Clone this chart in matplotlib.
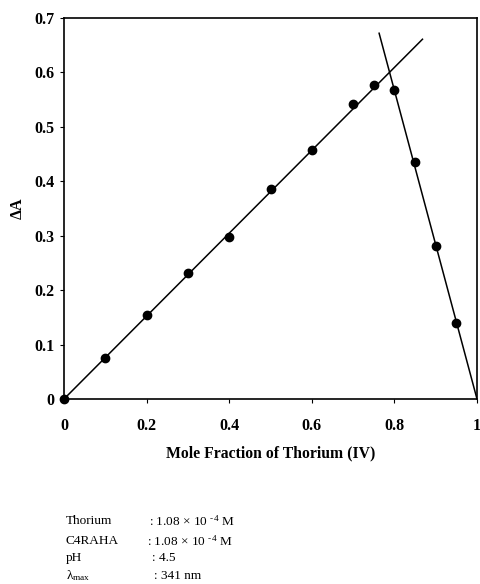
import numpy as np
import matplotlib.pyplot as plt

# Job's plot data
mole_frac = [0.0, 0.1, 0.2, 0.3, 0.4, 0.5, 0.6, 0.7, 0.75, 0.8, 0.85, 0.9, 0.95]
delta_a = [0.0, 0.076, 0.154, 0.231, 0.297, 0.386, 0.458, 0.542, 0.577, 0.568, 0.436, 0.281, 0.139]

# fitted lines (end points)
rise_x = [0.0, 0.868]
rise_y = [0.0, 0.661]
fall_x = [0.763, 1.0]
fall_y = [0.672, 0.0]

xticks = [0, 0.2, 0.4, 0.6, 0.8, 1]
xticklabels = ['0', '0.2', '0.4', '0.6', '0.8', '1']
yticks = [0, 0.1, 0.2, 0.3, 0.4, 0.5, 0.6, 0.7]
yticklabels = ['0', '0.1', '0.2', '0.3', '0.4', '0.5', '0.6', '0.7']

cond_names = ['Thorium', 'C4RAHA', 'pH', r'λ$_{\rm max}$']
cond_values = [r': 1.08 × 10 $^{\text{-4}}$ M', r': 1.08 × 10 $^{\text{-4}}$ M', ': 4.5', ': 341 nm']

plt.rcParams['font.family'] = ['Liberation Serif', 'DejaVu Serif']
plt.rcParams['mathtext.fontset'] = 'custom'
plt.rcParams['mathtext.rm'] = 'Liberation Serif'
plt.rcParams['mathtext.it'] = 'Liberation Serif:italic'

fig = plt.figure(figsize=(4.81, 5.84), dpi=100)
ax = fig.add_axes([64/481, 1-399/584, 413/481, 381/584])

ax.plot(rise_x, rise_y, color='black', linewidth=1.1)
ax.plot(fall_x, fall_y, color='black', linewidth=1.1)
ax.plot(mole_frac, delta_a, 'o', color='black', markersize=6, clip_on=False)

ax.set_xlim(0, 1)
ax.set_ylim(0, 0.7)
ax.set_xticks(xticks)
ax.set_xticklabels(xticklabels, fontsize=11.5, fontweight='bold')
ax.set_yticks(yticks)
ax.set_yticklabels(yticklabels, fontsize=11.5, fontweight='bold')
ax.tick_params(direction='out', length=3, width=0.8, pad=11)
ax.tick_params(axis='y', pad=4)
for s in ax.spines.values():
    s.set_linewidth(1.2)

ax.set_xlabel('Mole Fraction of Thorium (IV)', fontsize=11.3, fontweight='bold', labelpad=8)
ax.set_ylabel('ΔA', fontsize=11.5, fontweight='bold', labelpad=6)

ys = [521, 541, 558, 576]
xv = [149, 147, 152, 154]
for name, val, y, x in zip(cond_names, cond_values, ys, xv):
    fig.text(66/481, 1-y/584, name, fontsize=9.5, va='center', ha='left')
    fig.text(x/481, 1-y/584, val, fontsize=9.5, va='center', ha='left')

plt.savefig('out.png', dpi=100)
